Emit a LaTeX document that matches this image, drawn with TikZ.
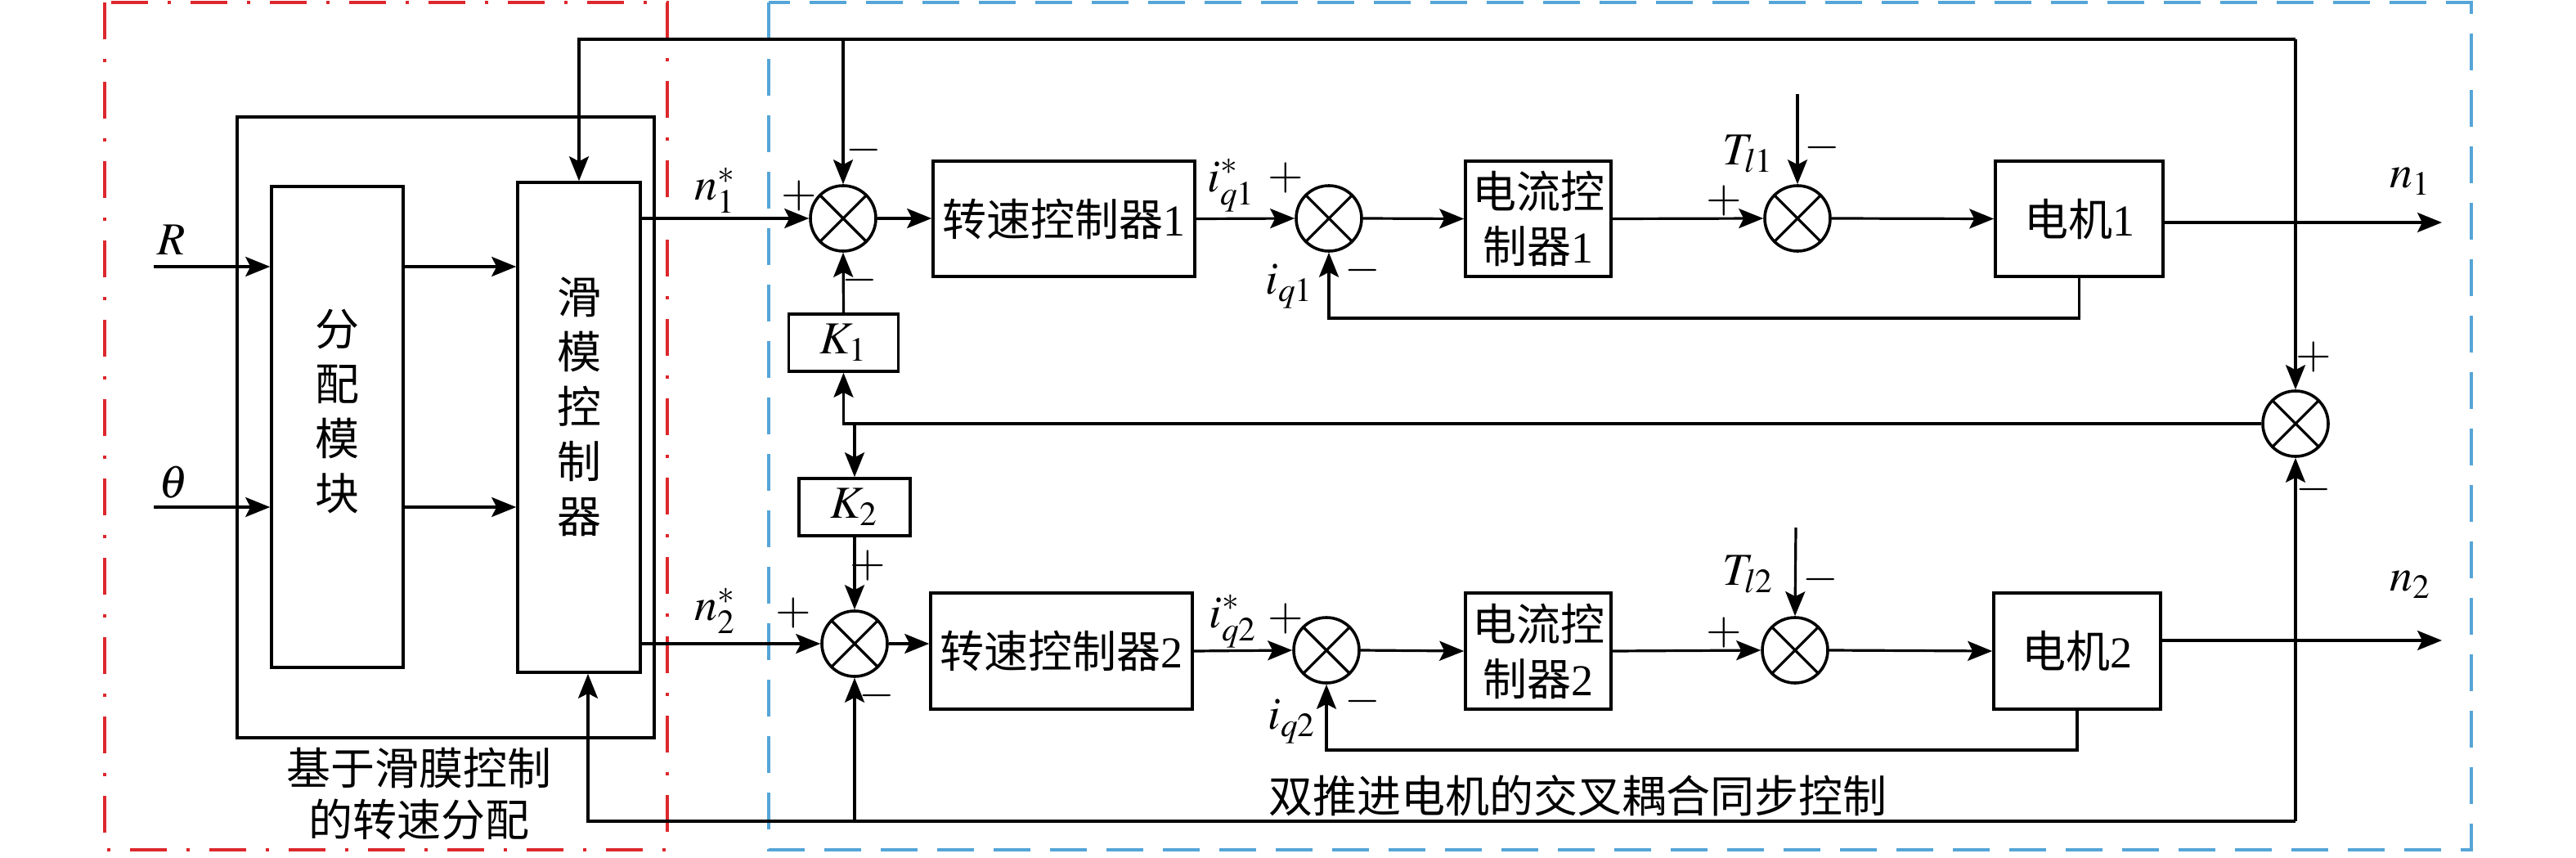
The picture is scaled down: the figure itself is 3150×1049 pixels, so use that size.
\documentclass[tikz,border=0pt]{standalone}
\usepackage{mathptmx}
\usepackage{fontspec}
\setmainfont{Liberation Serif}
\newfontfamily\cjkfont{Noto Sans CJK SC}
\usepackage{tikz}
\usetikzlibrary{arrows.meta}
\definecolor{redline}{RGB}{220,40,45}
\definecolor{blueline}{RGB}{85,165,215}

\begin{document}
\begin{tikzpicture}[x=0.25pt,y=-0.25pt,line width=0.8pt,
  >={Stealth[length=7.5pt,width=6pt,inset=1.5pt]},
  blk/.style={draw,line width=0.9pt,inner sep=0pt,align=center,
    font=\cjkfont\fontsize{13.5}{16.75}\selectfont},
  vtxt/.style={inner sep=0pt,align=center,font=\cjkfont\fontsize{13.5}{16.75}\selectfont},
  sumx/.style={circle,draw,line width=0.9pt,minimum size=20pt,inner sep=0pt,
    path picture={\draw[line width=0.8pt]
      (path picture bounding box.south west) -- (path picture bounding box.north east)
      (path picture bounding box.north west) -- (path picture bounding box.south east);}},
  sgn/.style={inner sep=0pt,font=\fontsize{14}{14}\selectfont},
  lbl/.style={inner sep=0pt,font=\fontsize{14}{14}\selectfont}]
\useasboundingbox (0,0) rectangle (3150,1049);
% group frames
\draw[redline,line width=0.8pt,dash pattern=on 11.25pt off 6pt on 1pt off 6pt] (128,3) rectangle (816,1039);
\draw[blueline,line width=0.9pt,dash pattern=on 11.25pt off 6pt] (940,3) rectangle (3022,1039);
\draw[line width=0.9pt] (290,143) rectangle (800,902);
% speed allocation
\node[blk,minimum width=40.25pt,minimum height=147pt] (alloc) at (412.5,522) {};
\node[vtxt] at (412.5,503) {分\\配\\模\\块};
\node[blk,minimum width=37.5pt,minimum height=149.75pt] (smc) at (708,522.5) {};
\node[vtxt] at (708,497) {滑\\模\\控\\制\\器};
% motor 1 loop
\node[sumx] (s1) at (1031,267) {};
\node[blk,minimum width=80pt,minimum height=35.25pt] (sc1) at (1301,267.5) {转速控制器\textrm{1}};
\node[sumx] (c1) at (1625,267) {};
\node[blk,minimum width=44.5pt,minimum height=35.25pt] (cc1) at (1881,267.5) {电流控\\制器\textrm{1}};
\node[sumx] (t1) at (2198,267) {};
\node[blk,minimum width=51.25pt,minimum height=35.25pt] (m1) at (2542.5,267.5) {电机\textrm{1}};
% motor 2 loop
\node[sumx] (s2) at (1045,787) {};
\node[blk,minimum width=80pt,minimum height=35.5pt] (sc2) at (1298,796) {转速控制器\textrm{2}};
\node[sumx] (c2) at (1622,795) {};
\node[blk,minimum width=44.5pt,minimum height=35.5pt] (cc2) at (1881,796) {电流控\\制器\textrm{2}};
\node[sumx] (t2) at (2195,795) {};
\node[blk,minimum width=51pt,minimum height=35.5pt] (m2) at (2540,796) {电机\textrm{2}};
% cross coupling
\node[sumx] (e) at (2807,518) {};
\node[blk,minimum width=33.5pt,minimum height=17.5pt,font=\fontsize{14}{14}\selectfont] (K1) at (1031.5,419) {$K_1$};
\node[blk,minimum width=34pt,minimum height=17.5pt,font=\fontsize{14}{14}\selectfont] (K2) at (1045,620) {$K_2$};

\coordinate (rin) at (188,326);
\coordinate (thin) at (188,620);
\coordinate (o1) at (2986,272);
\coordinate (o2) at (2986,783);
\coordinate (tl1) at (2198,115);
\coordinate (tl2) at (2196,645);
\coordinate (f1) at (0,389);
\coordinate (f2) at (0,917);
\coordinate (top) at (2807,48);
\coordinate (bot) at (2807,1004);

\draw[->] (rin) -- (rin -| alloc.west);
\draw[->] (thin) -- (thin -| alloc.west);
\draw[->] (alloc.east |- rin) -- (smc.west |- rin);
\draw[->] (alloc.east |- thin) -- (smc.west |- thin);
\draw[->] (smc.east |- s1) -- (s1.west);
\draw[->] (smc.east |- s2) -- (s2.west);

\draw[->] (s1.east) -- (sc1.west |- s1);
\draw[->] (sc1.east) -- (c1.west);
\draw[->] (c1.east) -- (cc1.west);
\draw[->] (cc1.east) -- (t1.west);
\draw[->] (t1.east) -- (m1.west);
\draw[->] (m1.east |- o1) -- (o1);
\draw[->] (tl1) -- (t1.north);
\draw[->] (m1.south) |- (c1 |- f1) -- (c1.south);

\draw[->] (s2.east) -- (sc2.west |- s2);
\draw[->] (sc2.east) -- (c2.west);
\draw[->] (c2.east) -- (cc2.west);
\draw[->] (cc2.east) -- (t2.west);
\draw[->] (t2.east) -- (m2.west);
\draw[->] (m2.east |- o2) -- (o2);
\draw[->] (tl2) -- (t2.north);
\draw[->] (m2.south) |- (c2 |- f2) -- (c2.south);

\draw[->] (top) -| (smc.north);
\draw[->] (top) -- (e.north);
\draw[->] (s1 |- top) -- (s1.north);
\draw[->] (bot) -- (e.south);
\draw[->] (bot) -| ([xshift=2.75pt]smc.south);
\draw[->] (s2 |- bot) -- (s2.south);
\draw[->] (e.west) -| (K1.south);
\draw[->] (K2 |- e) -- (K2.north);
\draw[->] (K1.north) -- (s1.south);
\draw[->] (K2.south) -- (s2.north);

% signs
\node[sgn] at (977,240) {$+$};
\node[sgn] at (1056,183) {$-$};
\node[sgn] at (1051,342) {$-$};
\node[sgn] at (970,750) {$+$};
\node[sgn] at (1061,692) {$+$};
\node[sgn] at (1072,850) {$-$};
\node[sgn] at (1572,218) {$+$};
\node[sgn] at (1666,330) {$-$};
\node[sgn] at (1572,757) {$+$};
\node[sgn] at (1666,857) {$-$};
\node[sgn] at (2108,246) {$+$};
\node[sgn] at (2228,180) {$-$};
\node[sgn] at (2108,774) {$+$};
\node[sgn] at (2226,708) {$-$};
\node[sgn] at (2829,437) {$+$};
\node[sgn] at (2829,598) {$-$};

% signal labels
\node[lbl] at (210,293) {$R$};
\node[lbl] at (212,590) {$\theta$};
\node[lbl] at (875,233) {$n_1^{*}$};
\node[lbl] at (875,747) {$n_2^{*}$};
\node[lbl] at (1506,227) {$i_{q1}^{*}$};
\node[lbl] at (1508,760) {$i_{q2}^{*}$};
\node[lbl] at (1577,350) {$i_{q1}$};
\node[lbl] at (1580,882) {$i_{q2}$};
\node[lbl] at (2138,188) {$T_{l1}$};
\node[lbl] at (2138,702) {$T_{l2}$};
\node[lbl] at (2948,222) {$n_1$};
\node[lbl] at (2948,715) {$n_2$};

% group titles
\node[vtxt,font=\cjkfont\fontsize{13.5}{15.75}\selectfont] at (512,971) {基于滑膜控制\\的转速分配};
\node[vtxt] at (1929,973) {双推进电机的交叉耦合同步控制};
\end{tikzpicture}
\end{document}
